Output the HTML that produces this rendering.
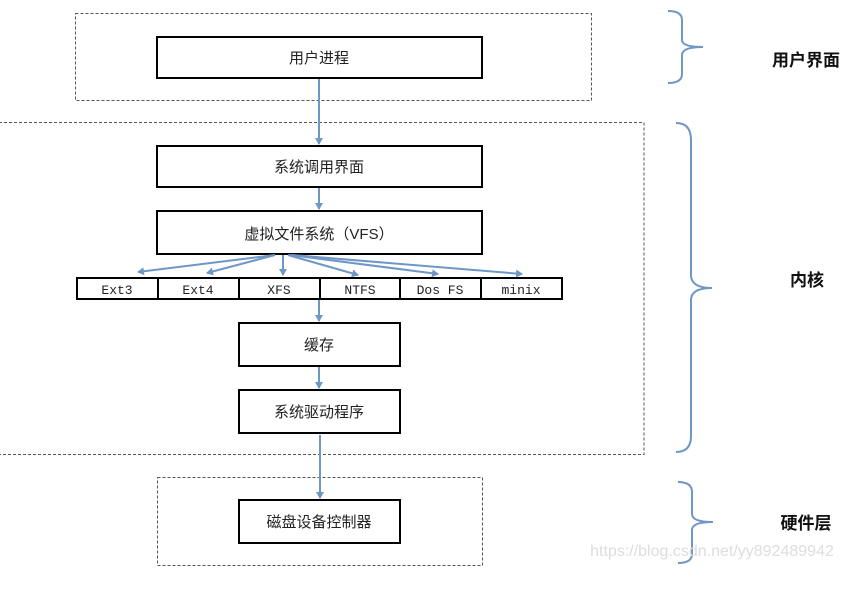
<!DOCTYPE html>
<html><head><meta charset="utf-8"><style>
html,body{margin:0;padding:0;background:#fff;width:863px;height:589px;overflow:hidden}
text{font-family:"Liberation Sans","Noto Sans CJK SC",sans-serif}
.m{font-family:"Liberation Mono","Noto Sans CJK SC",monospace}
</style></head><body>
<svg width="863" height="589" xmlns="http://www.w3.org/2000/svg">
<defs><marker id="a" markerWidth="8" markerHeight="8" refX="6" refY="4" orient="auto" markerUnits="userSpaceOnUse"><path d="M0,0 L7,4 L0,8 z" fill="#6f97c6"/></marker></defs>
<g fill="none" stroke="#555" stroke-width="1" stroke-dasharray="3,2">
<rect x="75.5" y="13.5" width="516" height="87"/>
<rect x="-1" y="122.5" width="645" height="332"/>
<rect x="157.5" y="477.5" width="325" height="88"/>
</g>
<g fill="#fff" stroke="#000" stroke-width="2">
<rect x="157" y="37" width="325" height="41"/>
<rect x="157" y="146" width="325" height="41"/>
<rect x="157" y="211" width="325" height="43"/>
<rect x="77" y="278" width="485" height="21"/>
<rect x="239" y="323" width="161" height="43"/>
<rect x="239" y="390" width="161" height="43"/>
<rect x="239" y="500" width="161" height="43"/>
</g>
<g stroke="#000" stroke-width="2">
<line x1="158" y1="278" x2="158" y2="299"/><line x1="239" y1="278" x2="239" y2="299"/>
<line x1="320" y1="278" x2="320" y2="299"/><line x1="400" y1="278" x2="400" y2="299"/>
<line x1="481" y1="278" x2="481" y2="299"/>
</g>
<g stroke="#6f97c6" stroke-width="2" fill="none" marker-end="url(#a)">
<line x1="319" y1="79" x2="319" y2="144"/>
<line x1="319" y1="188" x2="319" y2="209"/>
<line x1="319" y1="300" x2="319" y2="321"/>
<line x1="319" y1="367" x2="319" y2="388"/>
<line x1="320" y1="435" x2="320" y2="498"/>
<line x1="275" y1="255" x2="138" y2="272"/>
<line x1="275" y1="255" x2="207" y2="273"/>
<line x1="283" y1="255" x2="283" y2="275"/>
<line x1="288" y1="255" x2="358" y2="275"/>
<line x1="290" y1="255" x2="438" y2="274"/>
<line x1="292" y1="255" x2="522" y2="274"/>
</g>
<g font-size="15" fill="#222" text-anchor="middle">
<text x="319" y="63">用户进程</text>
<text x="319" y="172">系统调用界面</text>
<text x="319" y="239">虚拟文件系统（VFS）</text>
<text x="319" y="350">缓存</text>
<text x="319" y="417">系统驱动程序</text>
<text x="319" y="527">磁盘设备控制器</text>
</g>
<g class="m" font-size="13" fill="#222" text-anchor="middle">
<text class="m" x="117" y="294">Ext3</text><text class="m" x="198" y="294">Ext4</text>
<text class="m" x="279" y="294">XFS</text><text class="m" x="360" y="294">NTFS</text>
<text class="m" x="440" y="294">Dos FS</text><text class="m" x="521" y="294">minix</text>
</g>
<g stroke="#6f97c6" stroke-width="2" fill="none">
<path d="M668,11 Q682,11 682,20 L682,40 Q682,47 703,47 M703,47 Q682,47 682,55 L682,74 Q682,83 668,83"/>
<path d="M676,123 Q691,123 691,140 L691,275 Q691,288 712,288 M712,288 Q691,288 691,300 L691,436 Q691,452 676,452"/>
<path d="M678,482 Q692,482 692,492 L692,514 Q692,522 713,522 M713,522 Q692,522 692,530 L692,554 Q692,563 678,563"/>
</g>
<g font-size="17" font-weight="bold" fill="#111" text-anchor="middle">
<text x="806" y="66">用户界面</text>
<text x="807" y="286">内核</text>
<text x="806" y="529">硬件层</text>
</g>
<text x="712" y="556" font-size="16" fill="#ddd" text-anchor="middle">https://blog.csdn.net/yy892489942</text>
</svg>
</body></html>
